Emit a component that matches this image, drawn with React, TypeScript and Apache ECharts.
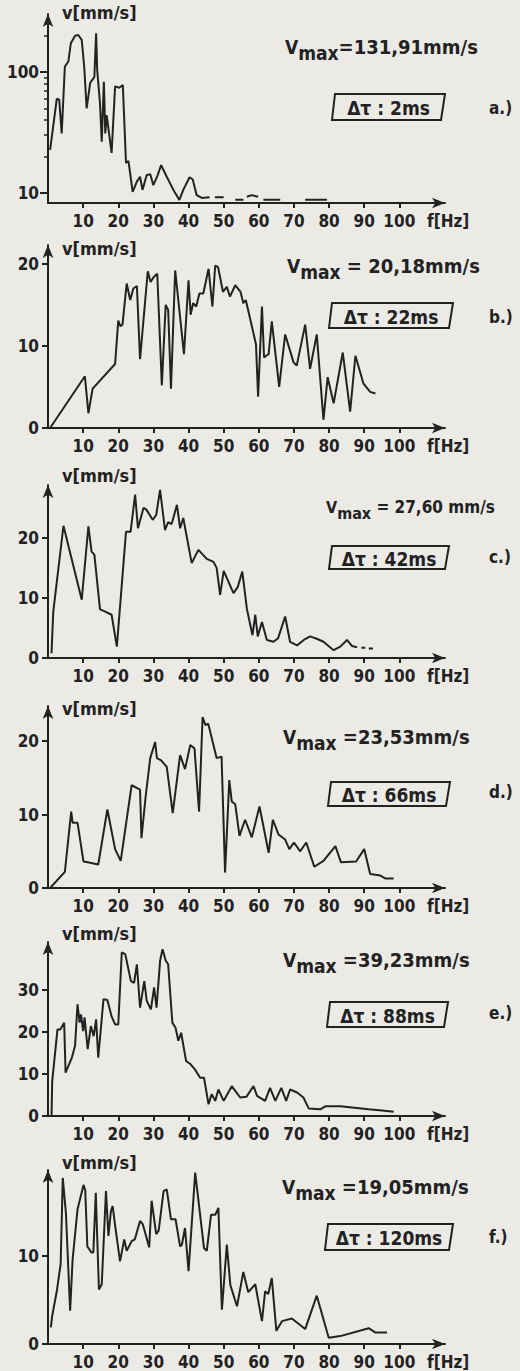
import React, { useEffect, useRef } from "react";
import * as echarts from "echarts";

const INK = "#222222";
const PAPER = "#ebeae5";
const FONT = "'DejaVu Sans Condensed', 'DejaVu Sans', sans-serif";

// ---- axis ticks ----
const freqTicks = [10, 20, 30, 40, 50, 60, 70, 80, 90, 100];
const logMajorTicks = [10, 100];
const logMinorTicks = [20, 30, 40, 50, 60, 70, 80, 90, 200];
const velTicksB = [0, 10, 20];
const velTicksC = [0, 10, 20];
const velTicksD = [0, 10, 20];
const velTicksE = [0, 10, 20, 30];
const velTicksF = [0, 10];

// ---- annotations ----
const freqUnit = "f[Hz]";
const velUnit = "v[mm/s]";
const vmaxTexts = ["=131,91mm/s", " = 20,18mm/s", " = 27,60 mm/s", " =23,53mm/s", " =39,23mm/s", " =19,05mm/s"];
const windowTexts = ["Δτ : 2ms", "Δτ : 22ms", "Δτ : 42ms", "Δτ : 66ms", "Δτ : 88ms", "Δτ : 120ms"];
const panelTags = ["a.)", "b.)", "c.)", "d.)", "e.)", "f.)"];

// ---- spectra: [f (Hz), v (mm/s)]; null = gap in the trace ----
const spectrumA: [number, number | null][] = [
  [0.6, 22.7], [2.5, 60], [3.2, 59], [3.9, 31], [4.8, 111], [5.8, 122], [6.5, 173], [7.7, 199],
  [8.6, 202], [9.6, 184], [10.3, 111], [11.0, 50], [12.0, 81], [13.2, 91], [13.7, 209], [14.0, 104],
  [14.8, 55], [15.3, 26.5], [15.9, 83], [16.3, 31], [16.7, 44], [18.1, 21.4], [19.1, 76], [20.3, 74],
  [21.3, 78], [22.2, 17.7], [22.9, 18.4], [24.1, 10.2], [25.3, 12.4], [26.2, 13.6], [26.9, 10.6],
  [28.1, 14.1], [29.1, 14.3], [30.0, 11.6], [31.2, 14], [32.2, 17], [33.8, 13.6], [35.7, 10.6],
  [37.4, 8.75], [38.5, 10.6], [40.3, 13.5], [41.2, 12.9], [42.3, 9.6], [43.8, 9.1], [46.0, 9.2],
  [46.7, null], [47.5, 9.2], [50.0, 9.2], [51.5, null], [53.3, 8.8], [55.6, 8.8], [56.1, null],
  [56.6, 9.3], [58.0, 9.6], [59.8, 9.3], [60.5, null], [61.3, 8.8], [66.1, 8.8], [70.0, null],
  [73.2, 8.8], [79.4, 8.8],
];

const spectrumB: [number, number | null][] = [
  [0.6, 0], [10.5, 6.3], [11.5, 1.8], [12.7, 4.8], [19.1, 7.8], [20.0, 13.1], [20.6, 12.4], [21.2, 12.6],
  [22.4, 17.6], [23.4, 15.6], [24.3, 17], [25.3, 17.3], [26.2, 8.4], [28.4, 19.1], [29.2, 17.8],
  [30.1, 18.4], [31.1, 18.8], [32.4, 5.2], [33.5, 15], [34.2, 14.4], [35.0, 4.8], [36.2, 19.2],
  [38.7, 9], [40.0, 18], [40.6, 13.8], [41.3, 15.2], [42.2, 14.8], [43.1, 16.4], [44.2, 16.4],
  [45.7, 19.4], [46.8, 14.8], [47.6, 19.8], [48.4, 19.6], [49.8, 16.6], [50.9, 17.2], [51.8, 16],
  [53.3, 17.4], [54.8, 16.6], [55.6, 15.2], [56.3, 15.6], [57.7, 13], [59.2, 10.2], [59.8, 3.8],
  [60.9, 14.8], [61.5, 8.6], [62.1, 8.8], [62.8, 9], [63.7, 13], [65.8, 5], [67.5, 11.4], [69.9, 8],
  [70.8, 7.6], [73.2, 12.6], [74.6, 7.2], [76.5, 11.4], [78.4, 1], [79.6, 6.2], [81.3, 3], [83.9, 9.2],
  [86.0, 2], [87.5, 8.8], [89.8, 5.4], [91.7, 4.4], [93.2, 4.2],
];

const spectrumC: [number, number | null][] = [
  [1.0, 0.8], [1.5, 7.7], [4.4, 22], [9.6, 9.7], [11.5, 21.9], [12.4, 17.7], [13.2, 17.2], [14.8, 8.1],
  [16.0, 7.8], [18.1, 7.2], [19.6, 1.9], [22.2, 21], [23.5, 21], [24.8, 27.2], [25.6, 21.6], [27.2, 25],
  [28.0, 24.7], [29.8, 23], [30.8, 23.8], [31.9, 28], [33.3, 21.3], [34.2, 22.6], [35.2, 22.3],
  [36.7, 25.5], [37.6, 21.6], [38.5, 23.3], [40.9, 15.8], [42.8, 18], [45.2, 16.5], [47.1, 16],
  [48.0, 15], [49.0, 10.5], [50.0, 14.5], [52.8, 10.8], [54.0, 11.8], [55.3, 14.4], [56.6, 8.2],
  [58.2, 3.8], [59.0, 7.2], [59.7, 3.6], [60.9, 6], [62.3, 3], [64.2, 2.7], [65.5, 3.3], [67.5, 6.9],
  [68.9, 2.7], [70.9, 2.1], [72.8, 3], [74.6, 3.6], [76.5, 3.2], [78.4, 2.7], [81.3, 1.3], [83.2, 1.9],
  [85.1, 3], [86.5, 2], [88.0, 1.8], [88.5, null], [89.2, 1.7], [90.3, 1.7], [90.8, null], [91.3, 1.6],
  [92.5, 1.6],
];

const spectrumD: [number, number | null][] = [
  [0.6, 0], [4.8, 2.2], [6.6, 10.4], [7.0, 8.9], [8.4, 8.9], [10.1, 3.6], [11.3, 3.5], [14.3, 3.2],
  [16.9, 10.7], [19.1, 5.3], [20.7, 3.7], [23.8, 14], [26.2, 13.4], [26.6, 6.8], [27.8, 12.5],
  [29.1, 17.7], [30.5, 19.9], [31.0, 17.7], [32.2, 17.4], [33.8, 16.5], [35.5, 10.2], [37.6, 18.1],
  [39.0, 16.2], [40.5, 19.5], [41.7, 19], [43.0, 10.4], [44.0, 23.3], [44.8, 22.2], [45.6, 22.4],
  [48.0, 17.7], [49.4, 17.9], [50.4, 2.1], [51.6, 14.7], [52.3, 11.8], [53.3, 11.4], [54.5, 7.1],
  [56.1, 9.3], [58.0, 6.9], [60.2, 11.1], [62.8, 4.8], [64.0, 9.3], [65.6, 7.3], [67.5, 6.6],
  [68.7, 5.3], [70.0, 6.2], [71.8, 5], [73.5, 6.2], [75.8, 2.9], [78.4, 3.7], [81.8, 5.7], [83.4, 3.5],
  [87.7, 3.6], [90.0, 5.3], [91.7, 1.9], [94.6, 1.7], [96.0, 1.3], [98.4, 1.3],
];

const spectrumE: [number, number | null][] = [
  [1.0, 0], [1.2, 8.3], [2.7, 20.6], [3.5, 20.6], [4.6, 22.2], [5.0, 10.3], [6.8, 13.9], [7.7, 16.7],
  [8.4, 26.6], [9.0, 22.2], [9.4, 24.2], [10.0, 20.2], [10.4, 23.5], [11.3, 15.9], [12.2, 21.4],
  [13.0, 19], [13.7, 23], [14.3, 13.9], [15.8, 27.8], [16.9, 27.6], [18.1, 23.7], [19.1, 21.8],
  [20.0, 21.8], [21.0, 38.9], [22.0, 38.5], [23.6, 32.1], [24.5, 31.7], [25.3, 36.1], [26.2, 25.8],
  [27.4, 32.1], [28.1, 27.4], [29.3, 25.4], [30.2, 30.6], [30.9, 25.8], [31.9, 36.9], [32.6, 39.7],
  [33.5, 37], [34.2, 36.1], [35.4, 22.2], [36.3, 21], [37.1, 17.9], [37.9, 19.8], [39.3, 13.1],
  [40.6, 12.3], [41.8, 11.1], [43.3, 9.1], [44.4, 9.1], [45.7, 2.8], [46.6, 5.2], [47.6, 3.6],
  [48.5, 6.3], [50.0, 3.6], [52.3, 7.1], [54.7, 4.4], [56.5, 4.6], [58.5, 7.1], [59.5, 4.8],
  [61.8, 3.6], [63.2, 6.7], [64.7, 3.6], [66.4, 6.7], [67.8, 3.6], [68.9, 6.3], [70.9, 5.6],
  [72.7, 4.4], [74.2, 1.8], [77.5, 1.6], [78.9, 2.3], [83.2, 2.3], [87.9, 1.9], [91.3, 1.6],
  [95.1, 1.3], [98.4, 1.0],
];

const spectrumF: [number, number | null][] = [
  [0.8, 1.9], [1.2, 3.2], [2.5, 6], [3.6, 9.1], [4.2, 18.9], [5.1, 14.9], [6.3, 3.8], [7.0, 9.6],
  [8.4, 15.3], [10.1, 18.1], [10.6, 17.5], [11.2, 11.1], [12.4, 10.4], [12.9, 10.4], [13.6, 17.2],
  [14.5, 6.2], [15.3, 6.8], [16.5, 17.4], [17.2, 12.3], [17.9, 15.1], [18.4, 15.7], [19.1, 13.5],
  [20.5, 9.4], [21.7, 11.9], [22.4, 10.6], [23.8, 11.7], [24.7, 11.9], [26.2, 14], [27.0, 13.6],
  [28.8, 11], [29.5, 16.3], [30.8, 12.5], [31.5, 12.9], [32.9, 17.4], [33.8, 17.6], [35.0, 14.2],
  [36.3, 14.2], [37.6, 11.1], [38.1, 11.3], [39.0, 13.2], [40.0, 8.3], [41.9, 19.5], [44.4, 10.9],
  [45.2, 10.6], [46.4, 14.7], [47.6, 14.7], [48.5, 15.5], [49.5, 3.9], [50.9, 11.3], [51.9, 6.7],
  [53.8, 4.3], [55.6, 8.2], [57.0, 5.9], [59.0, 6.8], [60.9, 2.6], [61.8, 6], [62.7, 5.7], [63.7, 7.5],
  [65.0, 1.5], [66.6, 2.6], [69.4, 2.9], [73.2, 1.7], [76.5, 5.5], [79.9, 0.7], [83.2, 0.9],
  [91.3, 1.8], [93.2, 1.3], [96.5, 1.3],
];

// ---- layout (pixels) ----
const X_MAX = 113;
const panels = [
  { top: 14, axisY: 203, yMin: Math.log10(8.26), yMax: 2.479, nameGap: 2, vmax: [285, 47], box: [332, 94, 445, 120], tag: [489, 108], vFont: 19 },
  { top: 245, axisY: 428, yMin: 0, yMax: 22.3, nameGap: -3, vmax: [287, 266], box: [329, 303, 453, 328], tag: [489, 317], vFont: 19 },
  { top: 485, axisY: 658, yMin: 0, yMax: 28.8, nameGap: 10, vmax: [326, 507], box: [329, 546, 449, 569], tag: [489, 557], vFont: 16 },
  { top: 706, axisY: 888, yMin: 0, yMax: 24.8, nameGap: -2, vmax: [283, 737], box: [328, 782, 450, 806], tag: [489, 792], vFont: 19 },
  { top: 942, axisY: 1116, yMin: 0, yMax: 41.4, nameGap: 9, vmax: [283, 960], box: [327, 1002, 448, 1027], tag: [489, 1013], vFont: 19 },
  { top: 1170, axisY: 1344, yMin: 0, yMax: 19.8, nameGap: 8, vmax: [282, 1187], box: [325, 1224, 453, 1250], tag: [489, 1237], vFont: 19 },
];

const spectra = [spectrumA, spectrumB, spectrumC, spectrumD, spectrumE, spectrumF];
const linTicks = [null, velTicksB, velTicksC, velTicksD, velTicksE, velTicksF];

const labelText = { color: INK, fontFamily: FONT, fontSize: 17, fontWeight: "bold" as const };

function buildOption() {
  const grid = panels.map((p) => ({ left: 48, right: 75, top: p.top, height: p.axisY - p.top }));

  const xAxis = panels.map((p, i) => ({
    gridIndex: i,
    type: "value",
    min: 0,
    max: X_MAX,
    axisLine: { show: true, symbol: ["none", "arrow"], symbolSize: [8, 13], lineStyle: { color: INK, width: 2 } },
    axisTick: { show: true, customValues: freqTicks, length: 5, lineStyle: { color: INK, width: 2 } },
    axisLabel: { customValues: freqTicks, margin: 9, ...labelText },
    splitLine: { show: false },
  }));

  const yName = (p: any) => ({
    name: velUnit,
    nameLocation: "end",
    nameGap: p.nameGap,
    nameTextStyle: { ...labelText, fontSize: 18, align: "left", verticalAlign: "middle", padding: [0, 0, 0, 14] },
  });

  const yAxis: any[] = [];
  // panel a: logarithmic scale (log10 of v)
  const pa = panels[0];
  yAxis.push({
    gridIndex: 0,
    type: "value",
    position: "left",
    min: pa.yMin,
    max: pa.yMax,
    axisLine: { show: true, symbol: ["none", "arrow"], symbolSize: [8, 13], lineStyle: { color: INK, width: 2 } },
    axisTick: { show: true, customValues: logMajorTicks.map((v) => Math.log10(v)), length: 8, lineStyle: { color: INK, width: 2 } },
    axisLabel: {
      customValues: logMajorTicks.map((v) => Math.log10(v)),
      margin: 9,
      formatter: (v: number) => String(Math.round(Math.pow(10, v))),
      ...labelText,
    },
    splitLine: { show: false },
    ...yName(pa),
  });
  yAxis.push({
    gridIndex: 0,
    type: "value",
    position: "left",
    min: pa.yMin,
    max: pa.yMax,
    axisLine: { show: false },
    axisTick: { show: true, customValues: logMinorTicks.map((v) => Math.log10(v)), length: 4, lineStyle: { color: INK, width: 1.5 } },
    axisLabel: { show: false },
    splitLine: { show: false },
  });
  for (let i = 1; i < panels.length; i++) {
    const p = panels[i];
    yAxis.push({
      gridIndex: i,
      type: "value",
      position: "left",
      min: p.yMin,
      max: p.yMax,
      axisLine: { show: true, symbol: ["none", "arrow"], symbolSize: [8, 13], lineStyle: { color: INK, width: 2 } },
      axisTick: { show: true, customValues: linTicks[i], length: 6, lineStyle: { color: INK, width: 2 } },
      axisLabel: { customValues: linTicks[i], margin: 9, ...labelText },
      splitLine: { show: false },
      ...yName(p),
    });
  }

  const series = spectra.map((s, i) => ({
    type: "line",
    xAxisIndex: i,
    yAxisIndex: i === 0 ? 0 : i + 1,
    symbol: "none",
    connectNulls: false,
    lineStyle: { color: INK, width: 2 },
    data: s.map(([f, v]) => [f, v === null ? "-" : i === 0 ? Math.log10(v) : v]),
  }));

  const graphic: any[] = [];
  panels.forEach((p, i) => {
    // frequency unit, on the tick-label row at the end of the axis
    graphic.push({
      type: "text",
      x: 427,
      y: p.axisY + 18,
      style: { text: freqUnit, align: "left", verticalAlign: "middle", fontSize: 17, fontWeight: "bold", fontFamily: FONT, fill: INK },
    });
    const [vx, vy] = p.vmax;
    graphic.push({
      type: "text",
      x: vx,
      y: vy,
      style: {
        text: `{v|V}{m|max}{t|${vmaxTexts[i]}}`,
        align: "left",
        verticalAlign: "middle",
        rich: {
          v: { fontSize: p.vFont, fontFamily: FONT, fontWeight: "bold", fill: INK },
          m: { fontSize: p.vFont, fontFamily: FONT, fontWeight: "bold", fill: INK, padding: [12, 0, 0, 0] },
          t: { fontSize: p.vFont + 1, fontFamily: FONT, fontWeight: "bold", fill: INK },
        },
      },
    });
    const [l, t, r, b] = p.box;
    graphic.push({
      type: "polygon",
      shape: { points: [[l, b], [l + 3, t], [r, t], [r - 4, b]] },
      style: { fill: "none", stroke: INK, lineWidth: 2 },
    });
    graphic.push({
      type: "text",
      x: (l + r) / 2,
      y: (t + b) / 2 + 1,
      style: { text: windowTexts[i], align: "center", verticalAlign: "middle", fontSize: 19, fontWeight: "bold", fontFamily: FONT, fill: INK },
    });
    const [tx, ty] = p.tag;
    graphic.push({
      type: "text",
      x: tx,
      y: ty,
      style: { text: panelTags[i], align: "left", verticalAlign: "middle", fontSize: 17, fontWeight: "bold", fontFamily: FONT, fill: INK },
    });
  });

  return {
    animation: false,
    backgroundColor: PAPER,
    grid,
    xAxis,
    yAxis,
    series,
    graphic,
  };
}

export default function App() {
  const ref = useRef<HTMLDivElement>(null);
  useEffect(() => {
    document.body.style.margin = "0";
    const chart = echarts.init(ref.current!, null, { renderer: "svg" });
    chart.setOption(buildOption() as any);
    return () => chart.dispose();
  }, []);
  return <div ref={ref} style={{ width: 520, height: 1371, background: PAPER }} />;
}
